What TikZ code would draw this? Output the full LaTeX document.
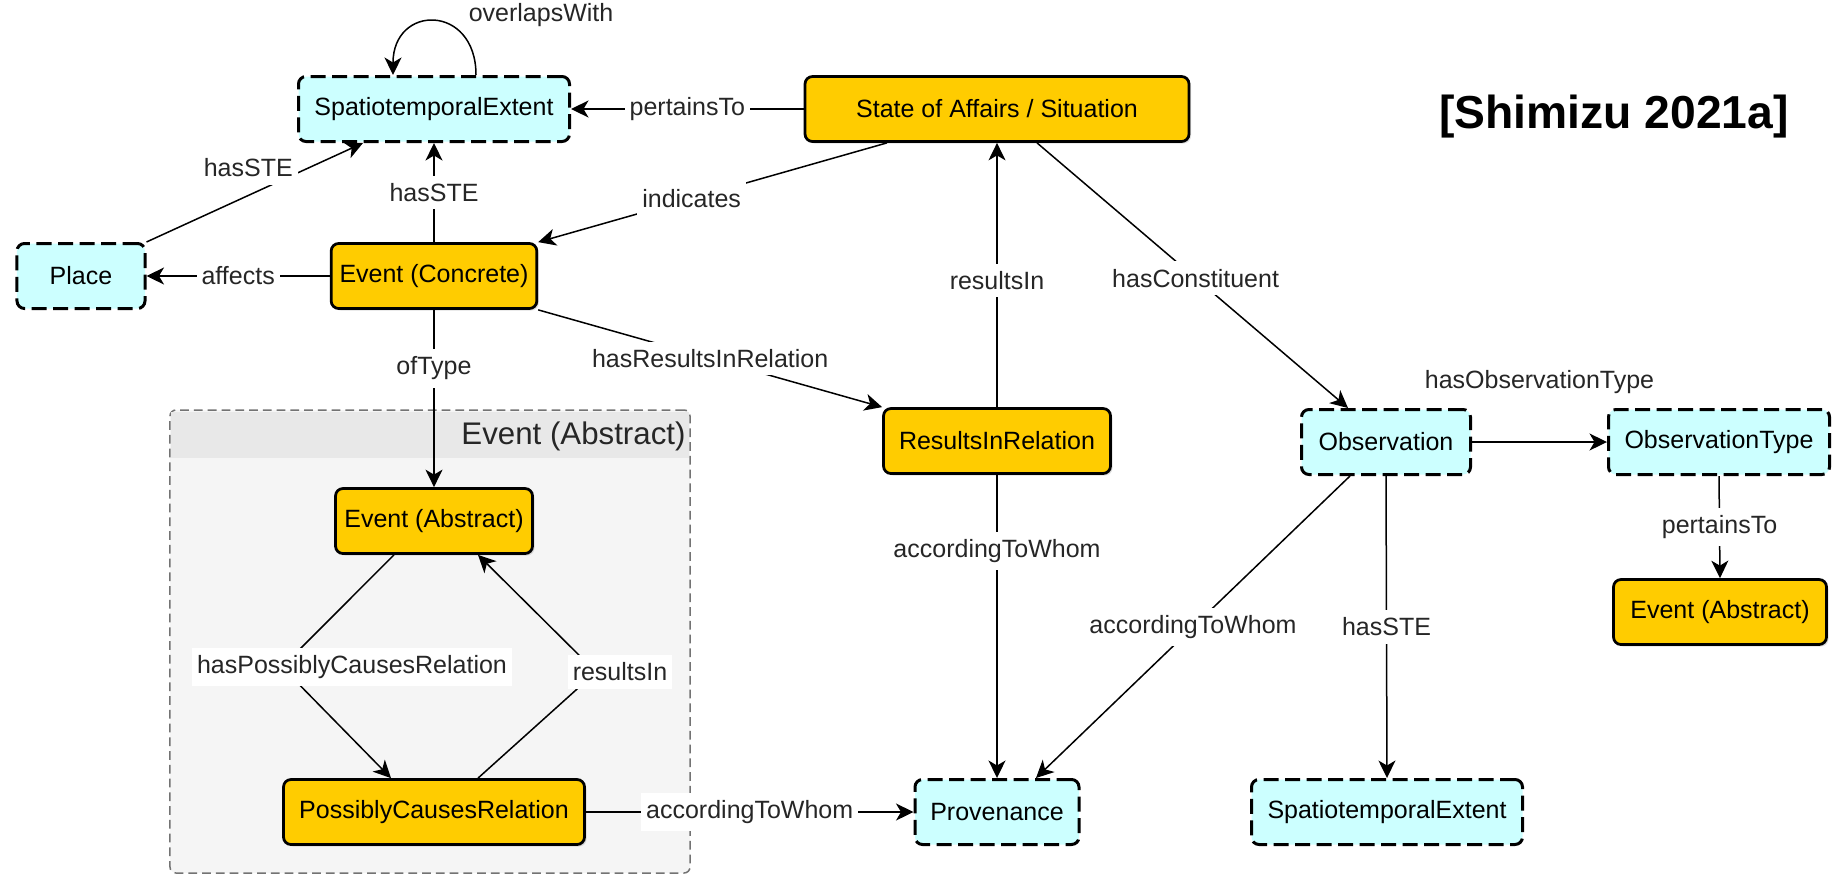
\documentclass[tikz,border=0pt]{standalone}
\usepackage{fontspec}
\setmainfont{Liberation Sans}
\usepackage{tikz}
\usetikzlibrary{arrows.meta, positioning, calc, shadows}
\definecolor{stateyellow}{HTML}{FFCC00}
\definecolor{extcyan}{HTML}{CCFFFF}
\definecolor{groupgray}{HTML}{F5F5F5}
\definecolor{headgray}{HTML}{E8E8E8}
\tikzset{
    concept/.style={
        rectangle, rounded corners=3pt, minimum height=26pt, align=center,
        draw=black, line width=1.1pt, fill=stateyellow, font=\fontsize{10}{12}\selectfont,
        drop shadow={opacity=0.25, shadow xshift=0.8pt, shadow yshift=-0.8pt}
    },
    external/.style={
        rectangle, rounded corners=3pt, minimum height=26pt, align=center,
        draw=black, line width=1.2pt, dash pattern=on 6pt off 2.6pt, fill=extcyan,
        font=\fontsize{10}{12}\selectfont
    },
    groupbox/.style={
        rectangle, rounded corners=2.4pt, inner sep=0pt, outer sep=0pt,
        draw=black!55, line width=0.6pt, dash pattern=on 3.5pt off 2pt, fill=groupgray
    },
    grouptitle/.style={
        inner sep=0pt, font=\fontsize{12.5}{15}\selectfont, text=black!85
    },
    citation/.style={
        inner sep=0pt, font=\fontsize{18.5}{22}\selectfont\bfseries
    },
    arrow/.style={
        line width=0.6pt, -{Stealth[length=7pt, width=6.8pt, inset=2pt]}, draw=black
    },
    lbl/.style={
        fill=white, inner xsep=2pt, inner ysep=3pt, font=\fontsize{10}{12}\selectfont, text=black!85
    }
}
\begin{document}
\begin{tikzpicture}[x=0.4pt, y=0.4pt]
    \useasboundingbox (0,0) rectangle (1832,-874);

    % Group Event (Abstract)
    \node[groupbox, minimum width=208pt, minimum height=185.2pt] (grp) at (430,-641.5) {};
    \fill[headgray] ($(grp.north west)+(1.5,-1.5)$) rectangle ($(grp.north east)+(-1.5,-48)$);
    \node[grouptitle, anchor=east] (grptitle) at (686,-436) {Event (Abstract)};

    % Top row
    \node[external, minimum width=108.4pt] (stetop) at (434,-109) {SpatiotemporalExtent};
    \node[concept, minimum width=153.6pt] (soa) at (997,-109) {State of Affairs / Situation};
    \node[citation] (cite) at (1614,-117) {[Shimizu 2021a]};

    % Concrete event
    \node[external, minimum width=51.2pt] (place) at (81,-276) {Place};
    \node[concept, minimum width=82pt] (evconc) at (434,-276) {Event (Concrete)};

    % Inside the group
    \node[concept, minimum width=78.8pt] (evabs) at (434,-521) {Event (Abstract)};
    \node[concept, minimum width=120.4pt] (pcr) at (434,-812) {PossiblyCausesRelation};

    % Middle and right
    \node[concept, minimum width=90.8pt] (rir) at (997,-441) {ResultsInRelation};
    \node[external, minimum width=65.6pt] (prov) at (997,-812) {Provenance};
    \node[external, minimum width=67.6pt] (obs) at (1386,-442) {Observation};
    \node[external, minimum width=88.4pt] (obstype) at (1719,-442) {ObservationType};
    \node[concept, minimum width=85.2pt] (evabsr) at (1720,-612) {Event (Abstract)};
    \node[external, minimum width=108.4pt] (steb) at (1387,-812) {SpatiotemporalExtent};

    % Relations
    \draw[arrow] ($(stetop.north)+(42,0)$) to[out=90, in=90, looseness=2.2]
        node[lbl, pos=0.25, anchor=south west] {overlapsWith} ($(stetop.north)+(-41,0)$);
    \draw[arrow] (soa.west) -- node[lbl] {pertainsTo} (stetop.east);
    \draw[arrow] (place.north east) -- node[lbl, pos=0.47, yshift=11pt] {hasSTE} ($(stetop.south)+(-71,0)$);
    \draw[arrow] (evconc.north) -- node[lbl] {hasSTE} (stetop.south);
    \draw[arrow] ($(soa.south)+(-110,0)$) -- node[lbl, pos=0.56] {indicates} (evconc.north east);
    \draw[arrow] (evconc.west) -- node[lbl] {affects} (place.east);
    \draw[arrow] (evconc.south) -- node[lbl, pos=0.33] {ofType} (evabs.north);
    \draw[arrow] (evconc.south east) -- node[lbl] {hasResultsInRelation} (rir.north west);
    \draw[arrow] (rir.north) -- node[lbl, pos=0.48] {resultsIn} (soa.south);
    \draw[arrow] ($(soa.south)+(40,0)$) -- node[lbl, pos=0.51] {hasConstituent} ($(obs.north)+(-38,0)$);
    \draw[arrow] (obs.east) -- node[lbl, above=16pt] {hasObservationType} (obstype.west);
    \draw[arrow] (obstype.south) -- node[lbl] {pertainsTo} (evabsr.north);
    \draw[arrow] (rir.south) -- node[lbl, pos=0.25] {accordingToWhom} (prov.north);
    \draw[arrow] ($(obs.south)+(-36,0)$) -- node[lbl] {accordingToWhom} ($(prov.north)+(39,0)$);
    \draw[arrow] (obs.south) -- node[lbl] {hasSTE} (steb.north);
    \draw[arrow] (pcr.east) -- node[lbl] {accordingToWhom} (prov.west);

    % Cycle inside the group
    \draw[arrow] ($(evabs.south)+(-40,0)$) -- (282,-667)
        node[lbl, xshift=28pt] {hasPossiblyCausesRelation} -- ($(pcr.north)+(-43,0)$);
    \draw[arrow] ($(pcr.north)+(44,0)$) -- (596,-672)
        node[lbl, xshift=9.6pt] {resultsIn} -- ($(evabs.south)+(44,0)$);
\end{tikzpicture}
\end{document}
